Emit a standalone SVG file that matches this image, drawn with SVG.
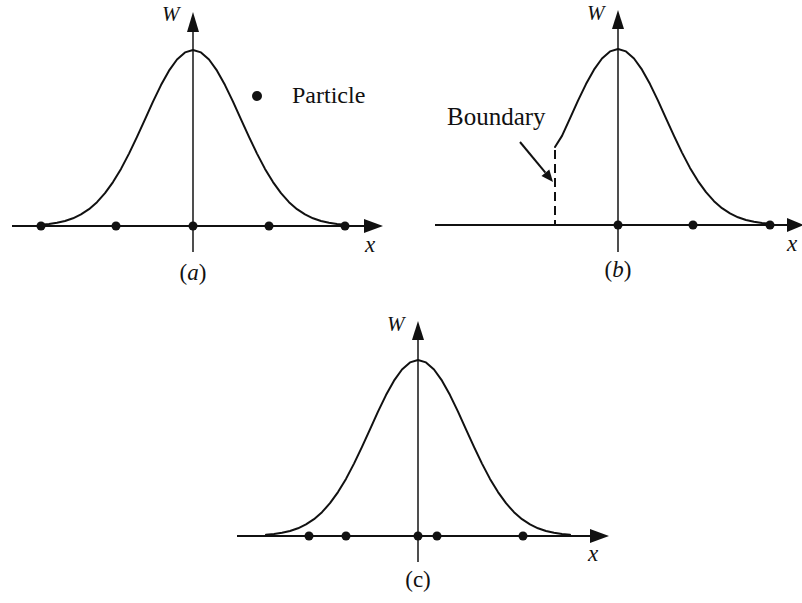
<svg xmlns="http://www.w3.org/2000/svg" width="802" height="603" viewBox="0 0 802 603">
<style>
.ax{stroke:#111;stroke-width:2;fill:none}
.vax{stroke:#222;stroke-width:1.6;fill:none}
.cur{stroke:#111;stroke-width:2;fill:none;stroke-linejoin:round;stroke-linecap:round}
.head{fill:#111}
.dot{fill:#111}
text{fill:#111}
</style>
<defs>
<path id="gauss" d="M-152,-1.2 L-144,-2 L-136,-3.2 L-128,-5 L-120,-7.7 L-112,-11.6 L-104,-16.8 L-96,-23.8 L-88,-32.8 L-80,-43.9 L-72,-57.1 L-64,-72.4 L-56,-89.1 L-48,-106.7 L-40,-124.4 L-32,-140.9 L-24,-155.3 L-16,-166.5 L-8,-173.6 L0,-176 L8,-173.6 L16,-166.5 L24,-155.3 L32,-140.9 L40,-124.4 L48,-106.7 L56,-89.1 L64,-72.4 L72,-57.1 L80,-43.9 L88,-32.8 L96,-23.8 L104,-16.8 L112,-11.6 L120,-7.7 L128,-5 L136,-3.2 L144,-2 L152,-1.2"/>
</defs>

<g id="panel-a">
  <line class="ax" x1="12" y1="226" x2="366" y2="226"/>
  <polygon class="head" points="383,226 364,219 364,233"/>
  <line class="vax" x1="193" y1="252" x2="193" y2="30"/>
  <polygon class="head" points="193,12 187,32 199,32"/>
  <use href="#gauss" class="cur" transform="translate(193,226)"/>
  <circle class="dot" cx="41" cy="226" r="4.5"/>
  <circle class="dot" cx="116" cy="226" r="4.5"/>
  <circle class="dot" cx="193" cy="226" r="4.5"/>
  <circle class="dot" cx="269" cy="226" r="4.5"/>
  <circle class="dot" cx="345" cy="226" r="4.5"/>
  <text x="162" y="21" font-family="'Liberation Serif', 'DejaVu Serif', serif" font-style="italic" font-size="21">W</text>
  <text x="365" y="252" font-family="'Liberation Serif', 'DejaVu Serif', serif" font-style="italic" font-size="23">x</text>
  <text x="193" y="280" font-family="'Liberation Serif', 'DejaVu Serif', serif" font-size="23" text-anchor="middle">(<tspan font-style="italic">a</tspan>)</text>
</g>

<g id="legend">
  <circle class="dot" cx="257" cy="96" r="5"/>
  <text x="292" y="103" font-family="'Liberation Serif', 'DejaVu Serif', serif" font-size="24">Particle</text>
</g>

<g id="panel-b">
  <line class="ax" x1="435" y1="225" x2="790" y2="225"/>
  <polygon class="head" points="804,225 787,218 787,232"/>
  <line class="vax" x1="618" y1="252" x2="618" y2="26"/>
  <polygon class="head" points="618,10 612,29 624,29"/>
  <path class="cur" transform="translate(618,225)" d="M-63,-78 L-56,-89.1 L-48,-106.7 L-40,-124.4 L-32,-140.9 L-24,-155.3 L-16,-166.5 L-8,-173.6 L0,-176 L8,-173.6 L16,-166.5 L24,-155.3 L32,-140.9 L40,-124.4 L48,-106.7 L56,-89.1 L64,-72.4 L72,-57.1 L80,-43.9 L88,-32.8 L96,-23.8 L104,-16.8 L112,-11.6 L120,-7.7 L128,-5 L136,-3.2 L144,-2 L152,-1.2"/>
  <line x1="555" y1="150" x2="555" y2="225" stroke="#111" stroke-width="2" stroke-dasharray="9,5"/>
  <circle class="dot" cx="618" cy="225" r="4.5"/>
  <circle class="dot" cx="693" cy="225" r="4.5"/>
  <circle class="dot" cx="770" cy="225" r="4.5"/>
  <text x="587" y="20" font-family="'Liberation Serif', 'DejaVu Serif', serif" font-style="italic" font-size="21">W</text>
  <text x="787" y="251" font-family="'Liberation Serif', 'DejaVu Serif', serif" font-style="italic" font-size="23">x</text>
  <text x="618" y="277" font-family="'Liberation Serif', 'DejaVu Serif', serif" font-size="23" text-anchor="middle">(<tspan font-style="italic">b</tspan>)</text>
</g>

<g id="boundary-label">
  <text x="447" y="125" font-family="'Liberation Serif', 'DejaVu Serif', serif" font-size="25">Boundary</text>
</g>

<g id="connectors">
  <line x1="520" y1="142" x2="545.4" y2="172.7" stroke="#111" stroke-width="2"/>
  <polygon class="head" points="553,182 549.3,169.5 541.5,175.9"/>
</g>

<g id="panel-c">
  <line class="ax" x1="237" y1="536" x2="592" y2="536"/>
  <polygon class="head" points="609,536 590,529 590,543"/>
  <line class="vax" x1="418" y1="562" x2="418" y2="338"/>
  <polygon class="head" points="418,321 412,340 424,340"/>
  <use href="#gauss" class="cur" transform="translate(418,536)"/>
  <circle class="dot" cx="309" cy="536" r="4.5"/>
  <circle class="dot" cx="346" cy="536" r="4.5"/>
  <circle class="dot" cx="418" cy="536" r="4.5"/>
  <circle class="dot" cx="437" cy="536" r="4.5"/>
  <circle class="dot" cx="523" cy="536" r="4.5"/>
  <text x="387" y="331" font-family="'Liberation Serif', 'DejaVu Serif', serif" font-style="italic" font-size="21">W</text>
  <text x="588" y="561" font-family="'Liberation Serif', 'DejaVu Serif', serif" font-style="italic" font-size="23">x</text>
  <text x="418" y="587" font-family="'Liberation Serif', 'DejaVu Serif', serif" font-size="23" text-anchor="middle">(c)</text>
</g>
</svg>
